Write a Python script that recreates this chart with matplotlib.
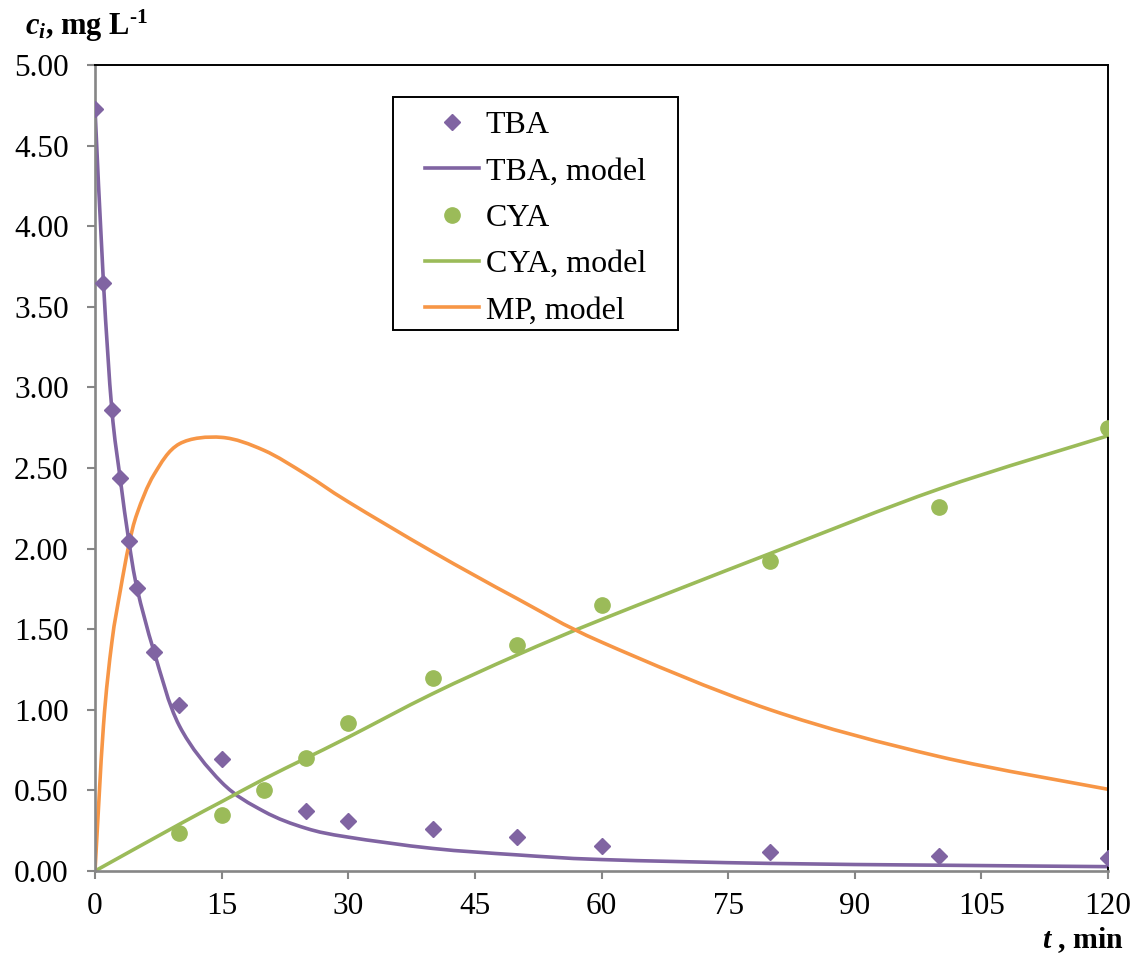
import matplotlib
matplotlib.use("Agg")
import matplotlib.pyplot as plt
from matplotlib.path import Path
from matplotlib.patches import PathPatch, Rectangle
from matplotlib.lines import Line2D

plt.rcParams['font.family'] = ['Liberation Serif', 'DejaVu Serif']
plt.rcParams['mathtext.fontset'] = 'custom'
plt.rcParams['mathtext.rm'] = 'Liberation Serif:bold'
plt.rcParams['mathtext.it'] = 'Liberation Serif:bold:italic'
plt.rcParams['mathtext.bf'] = 'Liberation Serif:bold'

# measured data
t_tba = [0, 1, 2, 3, 4, 5, 7, 10, 15, 25, 30, 40, 50, 60, 80, 100, 120]
c_tba = [4.73, 3.65, 2.86, 2.44, 2.05, 1.755, 1.36, 1.03, 0.695, 0.37, 0.31,
         0.26, 0.21, 0.155, 0.12, 0.095, 0.08]

t_cya = [10, 15, 20, 25, 30, 40, 50, 60, 80, 100, 120]
c_cya = [0.235, 0.35, 0.50, 0.70, 0.92, 1.20, 1.40, 1.65, 1.92, 2.26, 2.75]

# model curves (values at the sampling times)
t_model = [0, 1, 2, 3, 4, 5, 7, 10, 15, 20, 25, 30, 40, 50, 60, 80, 100, 120]
c_tba_model = [4.73, 3.65, 2.86, 2.43, 2.05, 1.75, 1.36, 0.90, 0.55, 0.37, 0.265,
               0.21, 0.14, 0.10, 0.071, 0.047, 0.036, 0.027]
c_mp_model = [0, 0.90, 1.42, 1.74, 2.02, 2.22, 2.46, 2.65, 2.69, 2.61, 2.46,
              2.29, 1.98, 1.69, 1.42, 1.00, 0.71, 0.507]

t_cya_model = [0, 10, 15, 20, 25, 30, 40, 50, 60, 80, 100, 120]
c_cya_model = [0, 0.29, 0.43, 0.57, 0.70, 0.83, 1.10, 1.34, 1.56, 1.97, 2.37, 2.70]

x_ticks = [0, 15, 30, 45, 60, 75, 90, 105, 120]
y_ticks = [0.0, 0.5, 1.0, 1.5, 2.0, 2.5, 3.0, 3.5, 4.0, 4.5, 5.0]

purple = '#8064A2'
green = '#9BBB59'
orange = '#F79646'
gray = '#868686'
LW = 2.6


def smooth_path(xs, ys):
    """Excel-style smoothed line: Catmull-Rom segments drawn as cubic Beziers."""
    pts = list(zip(xs, ys))
    n = len(pts)
    verts = [pts[0]]
    codes = [Path.MOVETO]
    for i in range(n - 1):
        p0 = pts[i - 1] if i > 0 else pts[i]
        p1 = pts[i]
        p2 = pts[i + 1]
        p3 = pts[i + 2] if i + 2 < n else pts[i + 1]
        c1 = (p1[0] + (p2[0] - p0[0]) / 6, p1[1] + (p2[1] - p0[1]) / 6)
        c2 = (p2[0] - (p3[0] - p1[0]) / 6, p2[1] - (p3[1] - p1[1]) / 6)
        verts += [c1, c2, p2]
        codes += [Path.CURVE4] * 3
    return Path(verts, codes)


fig = plt.figure(figsize=(11.39, 9.56), dpi=100)
ax = fig.add_axes([95/1139, 1-871/956, (1108-95)/1139, (871-65)/956])

h_tba, = ax.plot(t_tba, c_tba, linestyle='none', marker='D', markersize=8,
                 color=purple, label='TBA', zorder=4)
ax.add_patch(PathPatch(smooth_path(t_model, c_tba_model), fill=False,
                       edgecolor=purple, lw=LW, zorder=2, capstyle='round'))
h_cya, = ax.plot(t_cya, c_cya, linestyle='none', marker='o', markersize=11,
                 color=green, label='CYA', zorder=4)
ax.add_patch(PathPatch(smooth_path(t_cya_model, c_cya_model), fill=False,
                       edgecolor=green, lw=LW, zorder=2, capstyle='round'))
ax.add_patch(PathPatch(smooth_path(t_model, c_mp_model), fill=False,
                       edgecolor=orange, lw=LW, zorder=2, capstyle='round'))

h_tba_m = Line2D([], [], color=purple, lw=LW)
h_cya_m = Line2D([], [], color=green, lw=LW)
h_mp_m = Line2D([], [], color=orange, lw=LW)

ax.set_xlim(0, 120)
ax.set_ylim(0, 5)
ax.set_xticks(x_ticks)
ax.set_yticks(y_ticks)
ax.set_xticklabels([str(v) for v in x_ticks])
ax.set_yticklabels([f'{v:.2f}' for v in y_ticks])

for s in ['left', 'bottom']:
    ax.spines[s].set_color(gray)
    ax.spines[s].set_linewidth(1.9)
for s in ['top', 'right']:
    ax.spines[s].set_color('black')
    ax.spines[s].set_linewidth(1.4)

ax.tick_params(axis='both', direction='out', length=6, width=1.5, color=gray,
               labelsize=22.5, labelcolor='black')
ax.tick_params(axis='y', pad=13)
ax.tick_params(axis='x', pad=9)

leg = ax.legend([h_tba, h_tba_m, h_cya, h_cya_m, h_mp_m],
                ['TBA', 'TBA, model', 'CYA', 'CYA, model', 'MP, model'],
                loc='upper left', bbox_to_anchor=(425/1139, 1-111/956),
                bbox_transform=fig.transFigure, fontsize=23, frameon=False,
                handlelength=1.7, handletextpad=0.2, labelspacing=0.53,
                borderpad=0, borderaxespad=0)
fig.patches.append(Rectangle((393/1139, 1-330/956), (678-393)/1139, (330-97)/956,
                             transform=fig.transFigure, fill=False,
                             edgecolor='black', lw=1.4, zorder=5))

fig.text(25/1139, 1-35/956, r'$c_i$, mg L$^{\text{-1}}$', fontsize=22,
         fontweight='bold', ha='left', va='baseline')
fig.text(1124/1139, 1-948/956, r'$t$ , min', fontsize=21.5,
         fontweight='bold', ha='right', va='baseline')

fig.savefig('out.png', dpi=100)
